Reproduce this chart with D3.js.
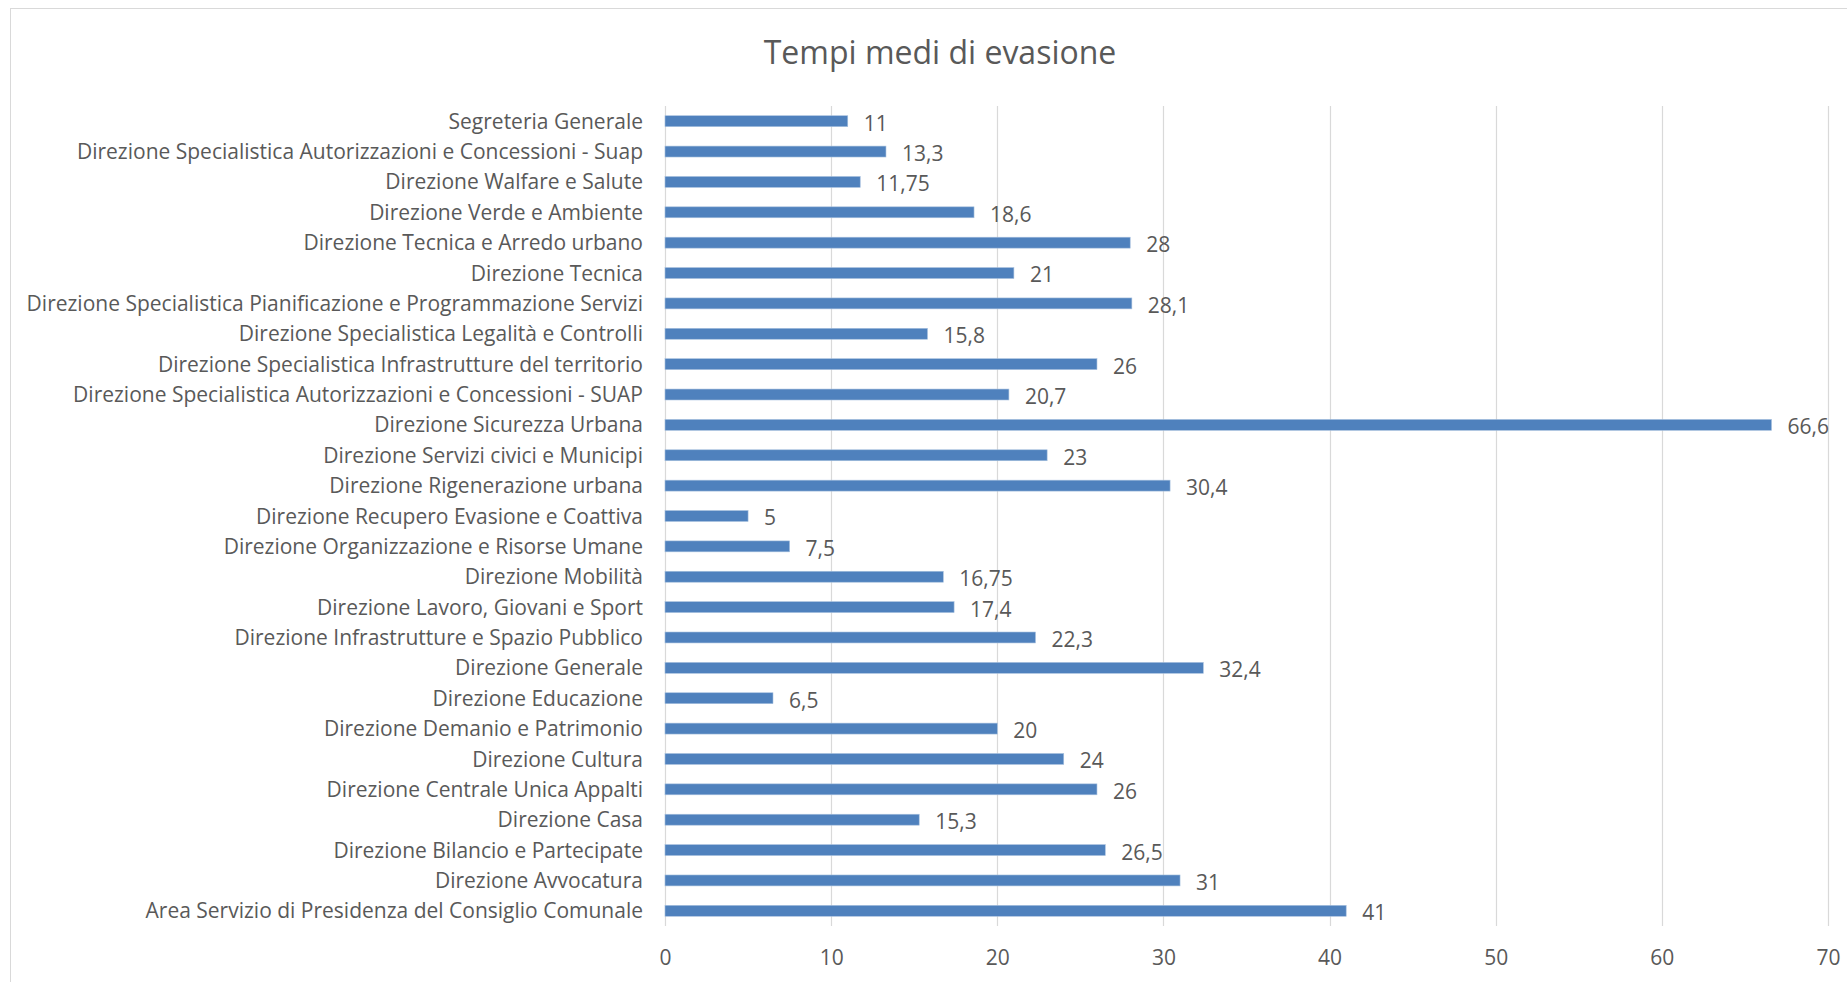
<!DOCTYPE html>
<html>
<head>
    <meta charset="utf-8">
    <title>Tempi medi di evasione</title>
    <script src="https://d3js.org/d3.v7.min.js"></script>
    <style>
        body { margin: 0; background: #fff; }
        text { font-family: "Open Sans", sans-serif; fill: #595959; }
    </style>
</head>
<body>
<script>
const W = 1847, H = 982;
const margin = {top: 106, right: 19, bottom: 56, left: 665};

// categories, top to bottom as in the chart
var categories = [
    "Segreteria Generale",
    "Direzione Specialistica Autorizzazioni e Concessioni - Suap",
    "Direzione Walfare e Salute",
    "Direzione Verde e Ambiente",
    "Direzione Tecnica e Arredo urbano",
    "Direzione Tecnica",
    "Direzione Specialistica Pianificazione e Programmazione Servizi",
    "Direzione Specialistica Legalità e Controlli",
    "Direzione Specialistica Infrastrutture del territorio",
    "Direzione Specialistica Autorizzazioni e Concessioni - SUAP",
    "Direzione Sicurezza Urbana",
    "Direzione Servizi civici e Municipi",
    "Direzione Rigenerazione urbana",
    "Direzione Recupero Evasione e Coattiva",
    "Direzione Organizzazione e Risorse Umane",
    "Direzione Mobilità",
    "Direzione Lavoro, Giovani e Sport",
    "Direzione Infrastrutture e Spazio Pubblico",
    "Direzione Generale",
    "Direzione Educazione",
    "Direzione Demanio e Patrimonio",
    "Direzione Cultura",
    "Direzione Centrale Unica Appalti",
    "Direzione Casa",
    "Direzione Bilancio e Partecipate",
    "Direzione Avvocatura",
    "Area Servizio di Presidenza del Consiglio Comunale"
];

var values = [11, 13.3, 11.75, 18.6, 28, 21, 28.1, 15.8, 26, 20.7, 66.6, 23, 30.4, 5, 7.5,
    16.75, 17.4, 22.3, 32.4, 6.5, 20, 24, 26, 15.3, 26.5, 31, 41];

var xTicks = [0, 10, 20, 30, 40, 50, 60, 70];

var data = categories.map(function(c, i) { return {name: c, value: values[i]}; });

var svg = d3.select("body").append("svg")
    .attr("width", W)
    .attr("height", H);

// outer chart border
svg.append("rect")
    .attr("x", 10.5).attr("y", 8.5)
    .attr("width", W).attr("height", H)
    .attr("fill", "none")
    .attr("stroke", "#d9d9d9")
    .attr("stroke-width", 1);

svg.append("text")
    .attr("x", 940)
    .attr("y", 64)
    .attr("text-anchor", "middle")
    .style("font-size", "32px")
    .text("Tempi medi di evasione");

var g = svg.append("g")
    .attr("transform", "translate(" + margin.left + "," + margin.top + ")");

var xScale = d3.scaleLinear().domain([0, 70]).range([0, 1163]);
var yScale = d3.scaleBand().domain(categories).range([0, 820]).paddingInner(0.64).paddingOuter(0.32);

// gridlines
g.selectAll(".grid")
    .data(xTicks)
    .enter().append("line")
    .attr("class", "grid")
    .attr("x1", function(d) { return Math.round(xScale(d)) + 0.5; })
    .attr("x2", function(d) { return Math.round(xScale(d)) + 0.5; })
    .attr("y1", 0)
    .attr("y2", 820)
    .attr("stroke", "#d9d9d9")
    .attr("stroke-width", 1.2);

// x axis labels
var xAxis = d3.axisBottom(xScale).tickValues(xTicks).tickSize(0).tickPadding(0);
var xAxisGroup = g.append("g")
    .attr("transform", "translate(0," + 820 + ")")
    .call(xAxis);
xAxisGroup.select(".domain").remove();
xAxisGroup.selectAll("text")
    .attr("y", 39)
    .attr("dy", 0)
    .style("font-family", "'Open Sans', sans-serif")
    .style("font-size", "21px")
    .style("fill", "#595959");

// y axis labels
var yAxis = d3.axisLeft(yScale).tickSize(0).tickPadding(22);
var yAxisGroup = g.append("g").call(yAxis);
yAxisGroup.select(".domain").remove();
yAxisGroup.selectAll("text")
    .attr("dy", "0.36em")
    .style("font-family", "'Open Sans', sans-serif")
    .style("font-size", "21px")
    .style("fill", "#595959");

// bars
g.selectAll(".bar")
    .data(data)
    .enter().append("rect")
    .attr("class", "bar")
    .attr("x", xScale(0))
    .attr("y", function(d) { return yScale(d.name); })
    .attr("width", function(d) { return xScale(d.value); })
    .attr("height", yScale.bandwidth())
    .attr("fill", "#4f81bd")
    .attr("stroke", "#a7c0de")
    .attr("stroke-width", 0.6);

// value labels
g.selectAll(".val")
    .data(data)
    .enter().append("text")
    .attr("class", "val")
    .attr("x", function(d) { return xScale(d.value) + 16; })
    .attr("y", function(d) { return yScale(d.name) + yScale.bandwidth() / 2; })
    .attr("dy", "0.45em")
    .style("font-size", "21px")
    .text(function(d) { return String(d.value).replace(".", ","); });
</script>
</body>
</html>
